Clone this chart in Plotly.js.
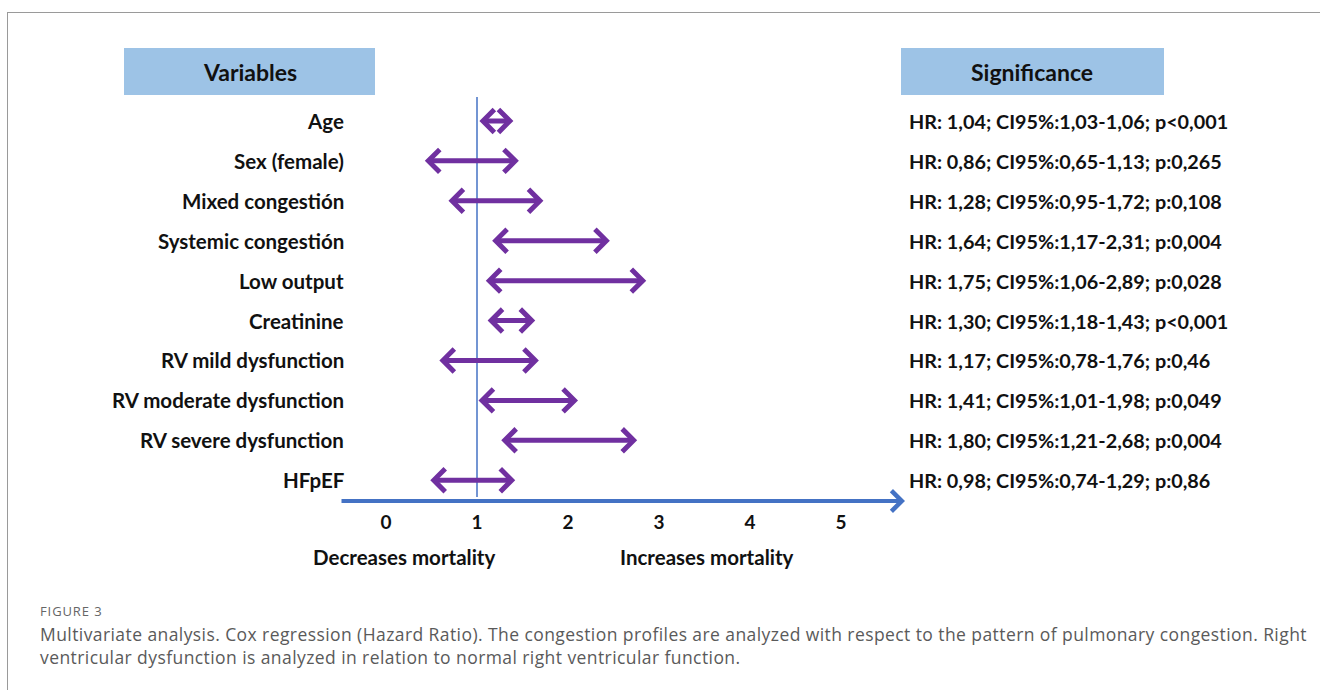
<!DOCTYPE html>
<html>
<head>
<meta charset="utf-8">
<script src="https://cdn.plot.ly/plotly-3.0.1.min.js"></script>
<style>
  html, body { margin: 0; padding: 0; background: #fff; }
  #wrap { position: relative; width: 1320px; height: 690px; overflow: hidden; }
  #frame { position: absolute; left: 7px; top: 12px; width: 1330px; height: 700px;
           border-top: 1.5px solid #9a9a9a; border-left: 1.5px solid #9a9a9a; }
  #chart { position: absolute; left: 0; top: 0; width: 1320px; height: 690px; }
  #figlabel { position: absolute; left: 40px; top: 602px; font-family: 'Open Sans', sans-serif;
              font-size: 13px; color: #666; letter-spacing: 0.9px; }
  #caption { position: absolute; left: 40px; top: 623px; font-family: 'Open Sans', sans-serif;
             font-size: 17.5px; line-height: 23px; color: #5a5a5a; white-space: nowrap; letter-spacing: 0.42px; }
</style>
</head>
<body>
<div id="wrap">
  <div id="frame"></div>
  <div id="chart"></div>
  <div id="figlabel">FIGURE 3</div>
  <div id="caption">Multivariate analysis. Cox regression (Hazard Ratio). The congestion profiles are analyzed with respect to the pattern of pulmonary congestion. Right<br>ventricular dysfunction is analyzed in relation to normal right ventricular function.</div>
</div>
<script>
// ---- data ----
const variables = ['Age', 'Sex (female)', 'Mixed congestión', 'Systemic congestión', 'Low output',
  'Creatinine', 'RV mild dysfunction', 'RV moderate dysfunction', 'RV severe dysfunction', 'HFpEF'];
// arrow end positions as drawn in the figure (axis units)
const arrowLow  = [1.01, 0.41, 0.67, 1.15, 1.08, 1.10, 0.57, 1.00, 1.25, 0.47];
const arrowHigh = [1.40, 1.46, 1.73, 2.46, 2.86, 1.64, 1.68, 2.11, 2.76, 1.42];
const significance = [
  'HR: 1,04; CI95%:1,03-1,06; p<0,001',
  'HR: 0,86; CI95%:0,65-1,13; p:0,265',
  'HR: 1,28; CI95%:0,95-1,72; p:0,108',
  'HR: 1,64; CI95%:1,17-2,31; p:0,004',
  'HR: 1,75; CI95%:1,06-2,89; p:0,028',
  'HR: 1,30; CI95%:1,18-1,43; p<0,001',
  'HR: 1,17; CI95%:0,78-1,76; p:0,46',
  'HR: 1,41; CI95%:1,01-1,98; p:0,049',
  'HR: 1,80; CI95%:1,21-2,68; p:0,004',
  'HR: 0,98; CI95%:0,74-1,29; p:0,86'
];
const tickVals = [0, 1, 2, 3, 4, 5];
const tickText = ['0', '1', '2', '3', '4', '5'];
const referenceValue = 1;
const headers = ['Variables', 'Significance'];
const directionLabels = ['Decreases mortality', 'Increases mortality'];

// ---- layout helpers (pixel -> paper) ----
const L = 340, R = 905, T = 97, B = 501;
const W = R - L, H = B - T;
const px = x => (x - L) / W;
const py = y => 1 - (y - T) / H;

const purple = '#7030A0';
const blue = '#4472C4';
const boxBlue = '#9DC3E6';
const FONT = 'Lato, "Open Sans", sans-serif';

const annotations = [];

// arrows
variables.forEach((v, i) => {
  annotations.push({
    x: arrowHigh[i], y: v, ax: arrowLow[i], ay: v,
    xref: 'x', yref: 'y', axref: 'x', ayref: 'y',
    text: '', showarrow: true,
    arrowside: 'end+start', arrowhead: 4, startarrowhead: 4,
    arrowsize: 0.88, startarrowsize: 0.88, arrowwidth: 5,
    standoff: 0, startstandoff: 0,
    arrowcolor: purple
  });
});

// variable labels
variables.forEach((v, i) => {
  annotations.push({
    x: px(346), y: v, xref: 'paper', yref: 'y', xanchor: 'right', yanchor: 'middle',
    text: v, showarrow: false,
    font: { family: FONT, size: 20.5, color: '#111', weight: 'bold' }
  });
});

// significance labels
significance.forEach((s, i) => {
  annotations.push({
    x: px(907), y: variables[i], xref: 'paper', yref: 'y', xanchor: 'left', yanchor: 'middle',
    text: s.replace(/</g, '&lt;'), showarrow: false,
    font: { family: FONT, size: 19.8, color: '#111', weight: 'bold' }
  });
});

// header texts
annotations.push({ x: px(250), y: py(72), xref: 'paper', yref: 'paper', xanchor: 'center', yanchor: 'middle',
  text: headers[0], showarrow: false, font: { family: FONT, size: 23, color: '#111', weight: 'bold' } });
annotations.push({ x: px(1032), y: py(72), xref: 'paper', yref: 'paper', xanchor: 'center', yanchor: 'middle',
  text: headers[1], showarrow: false, font: { family: FONT, size: 23, color: '#111', weight: 'bold' } });

// direction labels
annotations.push({ x: px(404), y: py(557), xref: 'paper', yref: 'paper', xanchor: 'center', yanchor: 'middle',
  text: directionLabels[0], showarrow: false, font: { family: FONT, size: 20.5, color: '#111', weight: 'bold' } });
annotations.push({ x: px(707), y: py(557), xref: 'paper', yref: 'paper', xanchor: 'center', yanchor: 'middle',
  text: directionLabels[1], showarrow: false, font: { family: FONT, size: 20.5, color: '#111', weight: 'bold' } });

// horizontal axis arrow
annotations.push({
  x: 1, y: 0, xref: 'x domain', yref: 'y domain',
  ax: 0, ay: 0, axref: 'x domain', ayref: 'y domain',
  text: '', showarrow: true, arrowhead: 4, arrowsize: 1, arrowwidth: 4,
  arrowcolor: blue, standoff: 0
});

const shapes = [
  { type: 'rect', xref: 'paper', yref: 'paper', x0: px(124), x1: px(375), y0: py(95), y1: py(48),
    fillcolor: boxBlue, line: { width: 0 }, layer: 'below' },
  { type: 'rect', xref: 'paper', yref: 'paper', x0: px(901), x1: px(1164), y0: py(95), y1: py(48),
    fillcolor: boxBlue, line: { width: 0 }, layer: 'below' },
  { type: 'line', xref: 'x', yref: 'paper', x0: referenceValue, x1: referenceValue, y0: py(497), y1: 1,
    line: { color: blue, width: 1.5 } }
];

const trace = {
  type: 'scatter', mode: 'markers',
  x: arrowLow, y: variables,
  marker: { opacity: 0 }, hoverinfo: 'skip', showlegend: false
};

const layout = {
  width: 1320, height: 690,
  margin: { l: L, r: 1320 - R, t: T, b: 690 - B, pad: 0 },
  paper_bgcolor: 'rgba(0,0,0,0)', plot_bgcolor: 'rgba(0,0,0,0)',
  showlegend: false,
  xaxis: {
    range: [1 - (477 - L) / 91, 1 + (R - 477) / 91],
    tickvals: tickVals, ticktext: tickText,
    showgrid: false, zeroline: false, showline: false, ticks: '',
    ticklabelstandoff: 8,
    tickfont: { family: FONT, size: 19, color: '#111', weight: 'bold' },
    fixedrange: true
  },
  yaxis: {
    type: 'category', categoryorder: 'array', categoryarray: variables,
    range: [9.52, -0.60],
    showgrid: false, zeroline: false, showline: false, showticklabels: false, ticks: '',
    fixedrange: true
  },
  annotations: annotations,
  shapes: shapes
};

Plotly.newPlot('chart', [trace], layout, { displayModeBar: false, staticPlot: true });
</script>
</body>
</html>
